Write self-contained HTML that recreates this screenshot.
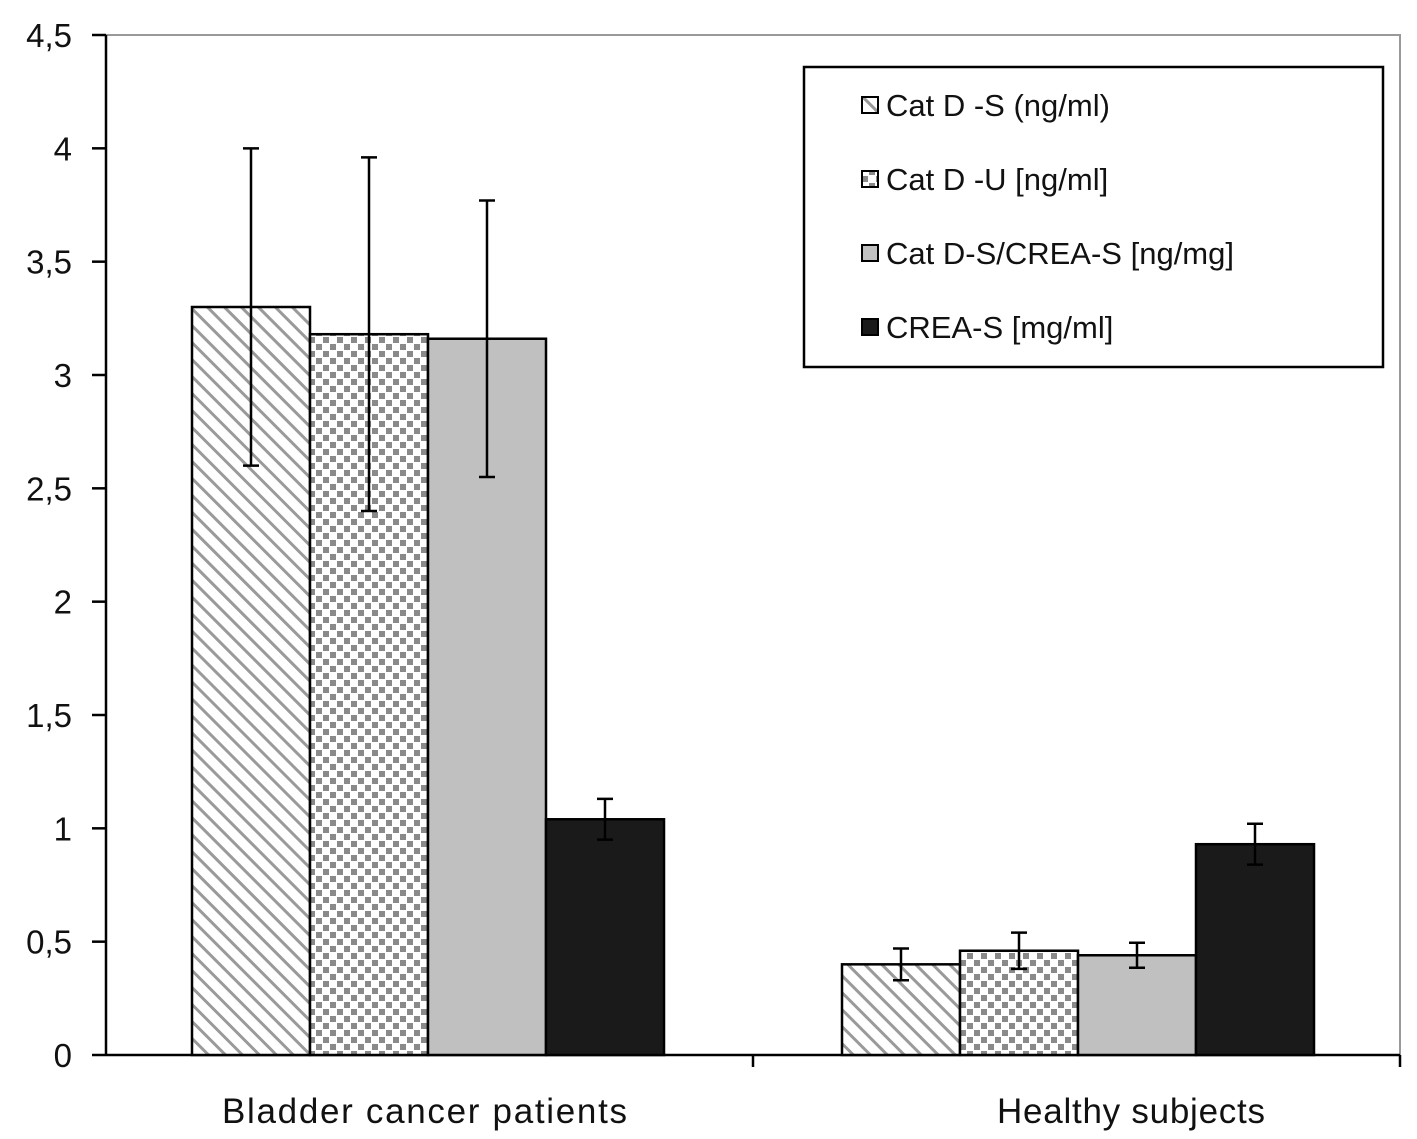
<!DOCTYPE html>
<html><head><meta charset="utf-8"><style>
body{margin:0;background:#fff}
svg{display:block;font-family:"Liberation Sans",Arial,sans-serif}
</style></head><body>
<svg id="chart" width="1417" height="1139" viewBox="0 0 1417 1139">
<defs>
<pattern id="hatch" patternUnits="userSpaceOnUse" width="12" height="12" patternTransform="rotate(-45)">
<rect width="12" height="12" fill="#fff"/><rect x="0" y="0" width="3" height="12" fill="#9a9a9a"/>
</pattern>
<pattern id="check" patternUnits="userSpaceOnUse" width="14" height="14">
<rect width="14" height="14" fill="#fff"/><rect x="1" y="1" width="6" height="6" fill="#8a8a8a"/><rect x="8" y="8" width="6" height="6" fill="#8a8a8a"/>
</pattern>
</defs>
<g id="plot"></g>
</svg>
<script>
const categories = ["Bladder cancer patients", "Healthy subjects"];
const seriesNames = ["Cat D -S (ng/ml)", "Cat D -U [ng/ml]", "Cat D-S/CREA-S [ng/mg]", "CREA-S [mg/ml]"];
const catDS = [3.30, 0.40];
const catDU = [3.18, 0.46];
const catRatio = [3.16, 0.44];
const creaS = [1.04, 0.93];
const errCatDS = [0.70, 0.07];
const errCatDU = [0.78, 0.08];
const errRatio = [0.61, 0.055];
const errCrea = [0.09, 0.09];
const yTicks = ["0","0,5","1","1,5","2","2,5","3","3,5","4","4,5"];

const NS="http://www.w3.org/2000/svg";
const g=document.getElementById('plot');
const x0=106,x1=1400,yTop=35,yBot=1055,yMax=4.5;
const y=v=>yBot-(v/yMax)*(yBot-yTop);
function mk(t,a,parent){const e=document.createElementNS(NS,t);for(const k in a)e.setAttribute(k,a[k]);(parent||g).appendChild(e);return e;}
const frame=mk('path',{d:`M${x0},${yTop}H${x1}V${yBot}`,fill:'none',stroke:'#999','stroke-width':2});


const ya=mk('line',{x1:x0,y1:yTop,x2:x0,y2:yBot,stroke:'#000','stroke-width':2.5});


const xa=mk('line',{x1:x0,y1:yBot,x2:x1,y2:yBot,stroke:'#000','stroke-width':2.5});


yTicks.forEach((t,i)=>{
  const v=i*0.5,yy=y(v);
  mk('line',{x1:x0-14,y1:yy,x2:x0,y2:yy,stroke:'#000','stroke-width':2.5});
  const tx=mk('text',{x:x0-34,y:yy+12,'text-anchor':'end','font-size':33,fill:'#111'});
  tx.textContent=t;
  
  
});
const catW=(x1-x0)/categories.length;
const labelStarts=[222,997];
const labelLens=[405,268];
categories.forEach((c,i)=>{
  const xt=x0+catW*(i+1);
  mk('line',{x1:xt,y1:yBot,x2:xt,y2:yBot+12,stroke:'#000','stroke-width':2.5});
  const tx=mk('text',{x:labelStarts[i],y:1123,'font-size':35,fill:'#111',textLength:labelLens[i],lengthAdjust:'spacing'});
  tx.textContent=c;
  
  
});
const series=[catDS,catDU,catRatio,creaS];
const errs=[errCatDS,errCatDU,errRatio,errCrea];
const fills=['url(#hatch)','url(#check)','#c0c0c0','#1a1a1a'];
const bw=118;
const groupStarts=[192,842];
categories.forEach((c,ci)=>{
  series.forEach((s,si)=>{
    const bx=groupStarts[ci]+si*bw, top=y(s[ci]);
    const r=mk('rect',{x:bx,y:top,width:bw,height:yBot-top,fill:fills[si],stroke:'#000','stroke-width':2.5});
    
    
    const cx=bx+bw/2,e=errs[si][ci];
    const eg=mk('path',{d:`M${cx},${y(s[ci]-e)}V${y(s[ci]+e)}M${cx-8},${y(s[ci]+e)}H${cx+8}M${cx-8},${y(s[ci]-e)}H${cx+8}`,stroke:'#000','stroke-width':2.5,fill:'none'});
    
    
  });
});
const lg=mk('g',{});


mk('rect',{x:804,y:67,width:579,height:300,fill:'#fff',stroke:'#000','stroke-width':2.5},lg);
seriesNames.forEach((n,i)=>{
  const ly=105+i*74;
  mk('rect',{x:862,y:ly-8,width:16,height:16,fill:fills[i],stroke:'#000','stroke-width':2},lg);
  const t=mk('text',{x:886,y:ly+11,'font-size':31,fill:'#111'},lg);
  t.textContent=n;
  
  
});
</script>
</body></html>
